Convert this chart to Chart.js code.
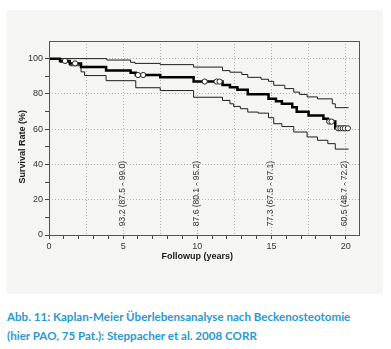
<!DOCTYPE html>
<html>
<head>
<meta charset="utf-8">
<script src="https://cdn.jsdelivr.net/npm/chart.js@4/dist/chart.umd.min.js"></script>
<style>
  html, body { margin: 0; padding: 0; background: #ffffff; width: 391px; height: 349px; overflow: hidden; }
  #panel { position: absolute; left: 7px; top: 10px; width: 376px; height: 284px; background: #f5f5f4; }
  #chart { position: absolute; left: 0; top: 0; }
  #caption { position: absolute; left: 7px; top: 307px; font-family: 'Lato', 'Open Sans', sans-serif; font-weight: 700;
             font-size: 11.6px; line-height: 19px; color: #2b98d4; white-space: nowrap; }
</style>
</head>
<body>
<div id="panel"><canvas id="chart" width="376" height="284"></canvas></div>
<div id="caption">Abb. 11: Kaplan-Meier Überlebensanalyse nach Beckenosteotomie<br>(hier PAO, 75 Pat.): Steppacher et al. 2008 CORR</div>
<script>
// Kaplan-Meier survival estimate (step points: time of drop, new value)
const mainX  = [0, 0.74, 1.4, 2.16, 3.85, 5.5, 5.85, 7.5, 9.75, 11.7, 12.2, 12.7, 13.4, 14.8, 15.3, 15.7, 16.4, 16.7, 17.5, 18.5, 18.8, 19.3, 20.2];
const mainY  = [100, 98.7, 97.3, 95.3, 93.3, 92.0, 90.7, 89.4, 87.0, 85.0, 83.8, 82.3, 79.8, 77.3, 75.8, 74.4, 72.5, 69.9, 67.8, 65.9, 64.3, 60.5, 60.5];
// Upper 95% confidence bound
const upperX = [0, 3.9, 5.5, 5.8, 7.5, 9.75, 11.7, 12.2, 13.0, 13.4, 14.3, 14.8, 15.15, 15.9, 16.5, 16.9, 17.4, 18.1, 19.1, 19.3, 20.2];
const upperY = [100, 99.2, 97.9, 97.3, 96.6, 95.2, 93.2, 92.3, 91.0, 89.4, 88.3, 87.1, 84.9, 83.0, 81.0, 79.7, 78.3, 77.2, 74.4, 72.2, 72.2];
// Lower 95% confidence bound
const lowerX = [0, 0.74, 1.4, 2.16, 2.4, 3.85, 5.85, 7.5, 9.75, 11.7, 12.2, 12.45, 12.9, 13.4, 14.1, 14.8, 15.15, 15.7, 16.5, 17.4, 18.1, 18.8, 19.3, 20.2];
const lowerY = [100, 97.9, 96.0, 92.5, 90.4, 87.5, 83.5, 81.9, 78.1, 76.3, 74.4, 72.9, 71.6, 69.7, 69.1, 66.5, 63.1, 61.5, 58.4, 55.6, 53.7, 51.8, 48.7, 48.7];
// Censored observations
const censorX = [1.08, 1.76, 6.0, 6.35, 10.5, 11.3, 11.5, 18.9, 19.05, 19.5, 19.65, 19.8, 19.95, 20.15];
const censorY = [98.7, 97.3, 90.7, 90.7, 87.0, 87.0, 87.0, 64.3, 64.3, 60.5, 60.5, 60.5, 60.5, 60.5];
// Survival annotations at 5-year marks
const annotX = [5, 10, 15, 20];
const annotText = ['93.2 (87.5 - 99.0)', '87.6 (80.1 - 95.2)', '77.3 (67.5 - 87.1)', '60.5 (48.7 - 72.2)'];
const xTitle = 'Followup (years)';
const yTitle = 'Survival Rate (%)';

const pts = (xs, ys) => xs.map((x, i) => ({ x: x, y: ys[i] }));
const near = (v, s) => Math.abs(v / s - Math.round(v / s)) < 1e-6;

const extras = {
  id: 'extras',
  afterDraw(chart) {
    const { ctx, chartArea: a, scales: { x, y } } = chart;
    ctx.save();
    // frame
    ctx.strokeStyle = '#555';
    ctx.lineWidth = 1;
    ctx.strokeRect(Math.round(a.left) + 0.5, Math.round(a.top) + 0.5, Math.round(a.right - a.left), Math.round(a.bottom - a.top));
    // annotations
    ctx.fillStyle = '#333';
    ctx.font = '8.5px "Liberation Sans", Arial, sans-serif';
    ctx.textBaseline = 'middle';
    ctx.textAlign = 'left';
    annotX.forEach((v, i) => {
      ctx.save();
      ctx.translate(x.getPixelForValue(v) - 0.5, y.getPixelForValue(5));
      ctx.rotate(-Math.PI / 2);
      ctx.fillText(annotText[i], 0, 0);
      ctx.restore();
    });
    // axis titles
    ctx.fillStyle = '#1a1a1a';
    ctx.font = 'bold 9px "Liberation Sans", Arial, sans-serif';
    ctx.textAlign = 'center';
    ctx.fillText(xTitle, x.getPixelForValue(10), 247);
    ctx.save();
    ctx.translate(16, y.getPixelForValue(50));
    ctx.rotate(-Math.PI / 2);
    ctx.fillText(yTitle, 0, 0);
    ctx.restore();
    ctx.restore();
  }
};

new Chart(document.getElementById('chart'), {
  type: 'line',
  data: {
    datasets: [
      { data: pts(censorX, censorY), showLine: false, pointRadius: 2.6, pointStyle: 'circle',
        pointBackgroundColor: '#ffffff', pointBorderColor: '#222', pointBorderWidth: 1, order: 0 },
      { data: pts(mainX, mainY), stepped: true, borderColor: '#000', borderWidth: 2.5, pointRadius: 0, fill: false, order: 1 },
      { data: pts(upperX, upperY), stepped: true, borderColor: '#1e1e1e', borderWidth: 1, pointRadius: 0, fill: false, order: 2 },
      { data: pts(lowerX, lowerY), stepped: true, borderColor: '#1e1e1e', borderWidth: 1, pointRadius: 0, fill: false, order: 2 }
    ]
  },
  options: {
    responsive: false,
    animation: false,
    devicePixelRatio: 1,
    layout: { padding: { left: 0, top: 31, right: 24, bottom: 0 } },
    plugins: { legend: { display: false }, tooltip: { enabled: false } },
    scales: {
      x: {
        type: 'linear', min: 0, max: 20.9,
        afterFit(s) { s.height = 59; },
        ticks: {
          stepSize: 0.5, autoSkip: false, maxRotation: 0, padding: 2,
          color: '#333', font: { size: 9, family: '"Liberation Sans", Arial, sans-serif' },
          callback: (v) => (near(v, 5) ? String(v) : '')
        },
        grid: {
          tickLength: 4,
          color: (c) => { const v = c.tick ? c.tick.value : 0; return (near(v, 2.5) && v > 0 && v < 20.9) ? '#b0b0b0' : 'rgba(0,0,0,0)'; },
          tickColor: (c) => { const v = c.tick ? c.tick.value : 0; return (near(v, 1) && v <= 20) ? '#444' : 'rgba(0,0,0,0)'; },
          tickBorderDash: [],
          lineWidth: 1
        },
        border: { display: false, dash: [1, 2] }
      },
      y: {
        type: 'linear', min: 0, max: 110,
        afterFit(s) { s.width = 42; },
        ticks: {
          stepSize: 10, autoSkip: false, padding: 2,
          color: '#333', font: { size: 9, family: '"Liberation Sans", Arial, sans-serif' },
          callback: (v) => (near(v, 20) && v <= 100 ? String(v) : '')
        },
        grid: {
          tickLength: 4,
          color: (c) => { const v = c.tick ? c.tick.value : 0; return (near(v, 20) && v > 0 && v <= 100) ? '#b0b0b0' : 'rgba(0,0,0,0)'; },
          tickColor: (c) => { const v = c.tick ? c.tick.value : 0; return (v <= 100) ? '#444' : 'rgba(0,0,0,0)'; },
          tickBorderDash: [],
          lineWidth: 1
        },
        border: { display: false, dash: [1, 2] }
      }
    }
  },
  plugins: [extras]
});
</script>
</body>
</html>
